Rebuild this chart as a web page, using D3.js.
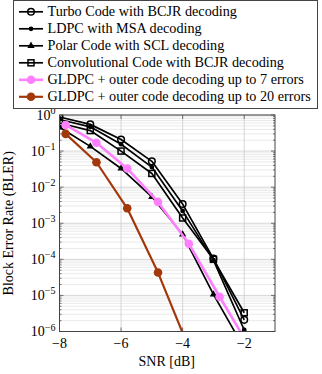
<!DOCTYPE html>
<html>
<head>
<meta charset="utf-8">
<script src="https://cdn.jsdelivr.net/npm/d3@7"></script>
<style>
  body { margin: 0; background: #fff; }
</style>
</head>
<body>
<script>
// ---------------------------------- data ----------------------------------
var snr = [-8, -7, -6, -5, -4, -3, -2];
var turbo = [0.88, 0.55, 0.21, 0.052, 0.0034, 1.05e-4, 2.1e-6];
var ldpc = [0.75, 0.47, 0.155, 0.036, 0.0022, 9.5e-5, 1.1e-6];
var polar = [0.46, 0.135, 0.033, 0.0054, 4.9e-4, 1.07e-5, 3.4e-7];
var conv = [0.6, 0.37, 0.1, 0.024, 0.0014, 1e-4, 3.3e-6];
var gldpcSnr = [-7.8, -6.8, -5.8, -4.8, -3.8, -2.8, -1.8];
var gldpc7 = [0.53, 0.17, 0.033, 0.0039, 2.7e-4, 9.2e-6, 3.4e-7];
var gldpc20 = [0.3, 0.049, 0.0026, 4.3e-5, 3.5e-7];
var xTicks = [-8, -6, -4, -2];
var yExps = [0, -1, -2, -3, -4, -5, -6];

var series = [
  { name: "Turbo Code with BCJR decoding", x: snr, y: turbo, color: "#000", mark: "o", lw: 1.7 },
  { name: "LDPC with MSA decoding", x: snr, y: ldpc, color: "#000", mark: "*", lw: 1.7 },
  { name: "Polar Code with SCL decoding", x: snr, y: polar, color: "#000", mark: "tri", lw: 1.7 },
  { name: "Convolutional Code with BCJR decoding", x: snr, y: conv, color: "#000", mark: "sq", lw: 1.7 },
  { name: "GLDPC + outer code decoding up to 7 errors", x: gldpcSnr, y: gldpc7, color: "#ff80ff", mark: "big", lw: 2.6 },
  { name: "GLDPC + outer code decoding up to 20 errors", x: gldpcSnr, y: gldpc20, color: "#a3390b", mark: "big", lw: 2.2 }
];

// ---------------------------------- layout ----------------------------------
var width = 322, height = 374;
var pLeft = 59.5, pRight = 275, pTop = 115, pBottom = 331.5;
var FONT = "Liberation Serif";

var svg = d3.select("body").append("svg")
  .attr("width", width).attr("height", height);

// every label goes through here so the serif face is set on the element itself
function label(g, px, py, size, str) {
  return g.append("text").attr("x", px).attr("y", py)
    .attr("font-family", FONT).attr("font-size", size).attr("fill", "#000")
    .text(str);
}

var x = d3.scaleLinear().domain([-8, -1]).range([pLeft, pRight]);
var y = d3.scaleLog().domain([1e-6, 1]).range([pBottom, pTop]);

svg.append("defs").append("clipPath").attr("id", "clip")
  .append("rect").attr("x", pLeft).attr("y", pTop)
  .attr("width", pRight - pLeft).attr("height", pBottom - pTop);

// grid
var minor = [];
yExps.forEach(function (e) {
  if (e === 0) return;
  for (var k = 2; k <= 9; k++) minor.push(k * Math.pow(10, e));
});
var grid = svg.append("g");
grid.selectAll(".ymin").data(minor).enter().append("line")
  .attr("x1", pLeft).attr("x2", pRight)
  .attr("y1", function (d) { return y(d); }).attr("y2", function (d) { return y(d); })
  .attr("stroke", "#e4e4e4").attr("stroke-width", 0.8);
grid.selectAll(".ymaj").data(yExps).enter().append("line")
  .attr("x1", pLeft).attr("x2", pRight)
  .attr("y1", function (d) { return y(Math.pow(10, d)); }).attr("y2", function (d) { return y(Math.pow(10, d)); })
  .attr("stroke", "#cccccc").attr("stroke-width", 0.8);
grid.selectAll(".xmaj").data(xTicks).enter().append("line")
  .attr("y1", pTop).attr("y2", pBottom)
  .attr("x1", function (d) { return x(d); }).attr("x2", function (d) { return x(d); })
  .attr("stroke", "#cccccc").attr("stroke-width", 0.8);

// ticks (inside, both sides)
var ticks = svg.append("g").attr("stroke", "#555").attr("stroke-width", 0.8);
xTicks.forEach(function (t) {
  ticks.append("line").attr("x1", x(t)).attr("x2", x(t)).attr("y1", pBottom).attr("y2", pBottom - 4);
  ticks.append("line").attr("x1", x(t)).attr("x2", x(t)).attr("y1", pTop).attr("y2", pTop + 4);
});
yExps.forEach(function (e) {
  var v = y(Math.pow(10, e));
  ticks.append("line").attr("x1", pLeft).attr("x2", pLeft + 4).attr("y1", v).attr("y2", v);
  ticks.append("line").attr("x1", pRight).attr("x2", pRight - 4).attr("y1", v).attr("y2", v);
});
minor.forEach(function (m) {
  var v = y(m);
  ticks.append("line").attr("x1", pLeft).attr("x2", pLeft + 2).attr("y1", v).attr("y2", v);
  ticks.append("line").attr("x1", pRight).attr("x2", pRight - 2).attr("y1", v).attr("y2", v);
});

// series
var plot = svg.append("g").attr("clip-path", "url(#clip)");
var line = d3.line()
  .x(function (d) { return x(d[0]); })
  .y(function (d) { return y(d[1]); });

function drawMark(g, kind, cx, cy, color) {
  if (kind === "o") {
    g.append("circle").attr("cx", cx).attr("cy", cy).attr("r", 3.3)
      .attr("fill", "none").attr("stroke", color).attr("stroke-width", 1.5);
  } else if (kind === "*") {
    g.append("circle").attr("cx", cx).attr("cy", cy).attr("r", 2.4).attr("fill", color);
  } else if (kind === "tri") {
    var s = 4.2;
    g.append("path")
      .attr("d", "M" + cx + "," + (cy - s) + "L" + (cx + s * 0.87) + "," + (cy + s * 0.5) +
        "L" + (cx - s * 0.87) + "," + (cy + s * 0.5) + "Z")
      .attr("fill", color);
  } else if (kind === "sq") {
    g.append("rect").attr("x", cx - 3).attr("y", cy - 3).attr("width", 6).attr("height", 6)
      .attr("fill", "none").attr("stroke", color).attr("stroke-width", 1.5);
  } else {
    g.append("circle").attr("cx", cx).attr("cy", cy).attr("r", 4.3).attr("fill", color);
  }
}

series.forEach(function (s) {
  var pts = s.x.slice(0, s.y.length).map(function (v, i) { return [v, s.y[i]]; });
  plot.append("path").datum(pts).attr("d", line)
    .attr("fill", "none").attr("stroke", s.color).attr("stroke-width", s.lw)
    .attr("stroke-linejoin", "round");
  pts.forEach(function (p) { drawMark(plot, s.mark, x(p[0]), y(p[1]), s.color); });
});

// frame
svg.append("rect").attr("x", pLeft).attr("y", pTop)
  .attr("width", pRight - pLeft).attr("height", pBottom - pTop)
  .attr("fill", "none").attr("stroke", "#444").attr("stroke-width", 1);

// tick labels
xTicks.forEach(function (t) {
  label(svg, x(t), pBottom + 16, 14, "\u2212" + Math.abs(t))
    .attr("text-anchor", "middle");
});
yExps.forEach(function (e) {
  var tx = label(svg, pLeft - 4, y(Math.pow(10, e)) + 4.5, 14, null)
    .attr("text-anchor", "end");
  tx.append("tspan").text("10");
  tx.append("tspan").attr("dy", -5.5).attr("font-size", 10)
    .text(e === 0 ? "0" : "\u2212" + Math.abs(e));
});

// axis labels
label(svg, (pLeft + pRight) / 2 - 0.5, 366, 14, "SNR [dB]")
  .attr("text-anchor", "middle");
label(svg, 0, 0, 14, "Block Error Rate (BLER)")
  .attr("transform", "translate(13," + ((pTop + pBottom) / 2) + ") rotate(-90)")
  .attr("text-anchor", "middle");

// legend
var lg = svg.append("g");
lg.append("rect").attr("x", 13.5).attr("y", 0.5).attr("width", 304).attr("height", 108)
  .attr("fill", "#fff").attr("stroke", "#444").attr("stroke-width", 1);
series.forEach(function (s, i) {
  var cy = 11.8 + i * 17;
  lg.append("line").attr("x1", 19).attr("x2", 43).attr("y1", cy).attr("y2", cy)
    .attr("stroke", s.color).attr("stroke-width", s.lw);
  drawMark(lg, s.mark, 31, cy, s.color);
  label(lg, 47.5, cy + 4.6, 14.2, s.name);
});
</script>
</body>
</html>
